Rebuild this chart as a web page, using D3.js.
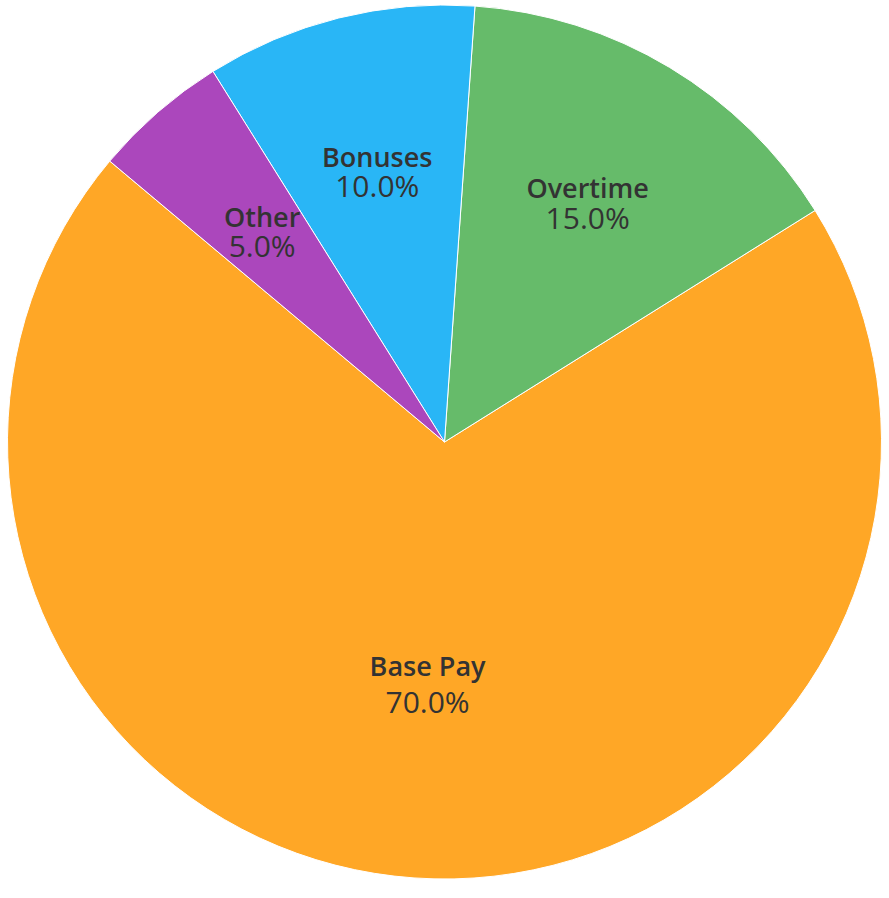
<!DOCTYPE html>
<html>
<head>
<meta charset="utf-8">
<script src="https://cdn.jsdelivr.net/npm/d3@7"></script>
<style>
  html, body { margin: 0; padding: 0; background: #ffffff; }
  #pay-chart { width: 889px; height: 898px; }
  .slice-name { font-family: "Open Sans", "Noto Sans", sans-serif; font-weight: 600; }
  .slice-pct { font-family: "Open Sans", "Noto Sans", sans-serif; font-weight: 400; }
</style>
</head>
<body>
<div id="pay-chart"></div>
<script>
const categories = ["Base Pay", "Overtime", "Bonuses", "Other"];
const shares = [70, 15, 10, 5];
const sliceColors = ["#FFA726", "#66BB6A", "#29B6F6", "#AB47BC"];

const width = 889;
const height = 898;
const radius = 437;
const centerY = 442;

const data = categories.map((name, i) => ({ name, value: shares[i], color: sliceColors[i] }));
const total = d3.sum(shares);
const fmtPct = d3.format(".1%");

const svg = d3.select("#pay-chart")
  .append("svg")
  .attr("width", width)
  .attr("height", height)
  .append("g")
  .attr("transform", `translate(${width / 2},${centerY})`);

// slices run counter-clockwise, biggest first, starting at -50deg
const start = -50 * Math.PI / 180;
const pie = d3.pie()
  .value(d => d.value)
  .startAngle(start)
  .endAngle(start - 2 * Math.PI);

const arcs = pie(data);
const arc = d3.arc().innerRadius(0).outerRadius(radius);

svg.selectAll(".slice")
  .data(arcs)
  .enter()
  .append("path")
  .attr("class", "slice")
  .attr("d", arc)
  .attr("fill", d => d.data.color)
  .attr("stroke", "#ffffff")
  .attr("stroke-width", 1);

// label anchor sits a bit further out for the narrow slices
function labelPos(d) {
  const a = (d.startAngle + d.endAngle) / 2;
  const big = Math.abs(d.endAngle - d.startAngle) > Math.PI;
  const lr = radius * (big ? 0.556 : 0.636);
  return [Math.sin(a) * lr, -Math.cos(a) * lr, big];
}

const labels = svg.selectAll(".slice-label")
  .data(arcs)
  .enter()
  .append("g")
  .attr("class", "slice-label")
  .attr("transform", d => {
    const [x, y] = labelPos(d);
    return `translate(${x},${y})`;
  });

labels.append("text")
  .attr("class", "slice-name")
  .attr("text-anchor", "middle")
  .attr("font-size", 27)
  .attr("fill", "#333333")
  .attr("y", d => labelPos(d)[2] ? -8.5 : -5.5)
  .text(d => d.data.name);

labels.append("text")
  .attr("class", "slice-pct")
  .attr("text-anchor", "middle")
  .attr("font-size", 30)
  .attr("fill", "#333333")
  .attr("y", d => labelPos(d)[2] ? 28.5 : 25)
  .text(d => fmtPct(d.data.value / total));
</script>
</body>
</html>
